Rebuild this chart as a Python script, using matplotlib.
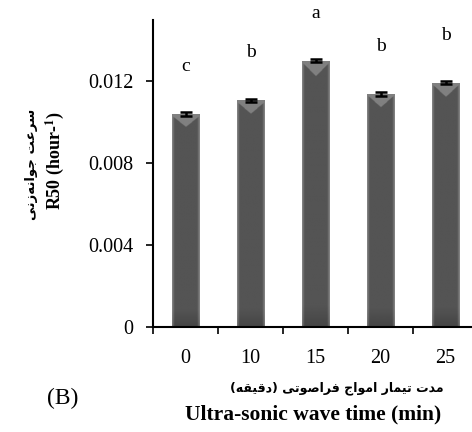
import numpy as np
import matplotlib
matplotlib.use("Agg")
import matplotlib.pyplot as plt

# data
times = ["0", "10", "15", "20", "25"]
r50 = [0.01039, 0.01106, 0.01298, 0.01137, 0.01192]
r50_err = [0.00008, 0.00008, 0.00007, 0.00008, 0.00007]
groups = ["c", "b", "a", "b", "b"]

xlabel_fa = "مدت تیمار امواج فراصوتی (دقیقه)"
ylabel_fa = "سرعت جوانه\u200cزنی"

plt.rcParams["font.family"] = ["Liberation Serif", "DejaVu Sans"]
plt.rcParams["mathtext.fontset"] = "stix"

# tiny Persian shaper (matplotlib 3.10 does not join Arabic letters)
FORMS = {
    "ا": ("\uFE8D", "\uFE8E", None, None),
    "ت": ("\uFE95", "\uFE96", "\uFE97", "\uFE98"),
    "ج": ("\uFE9D", "\uFE9E", "\uFE9F", "\uFEA0"),
    "د": ("\uFEA9", "\uFEAA", None, None),
    "ر": ("\uFEAD", "\uFEAE", None, None),
    "ز": ("\uFEAF", "\uFEB0", None, None),
    "س": ("\uFEB1", "\uFEB2", "\uFEB3", "\uFEB4"),
    "ص": ("\uFEB9", "\uFEBA", "\uFEBB", "\uFEBC"),
    "ع": ("\uFEC9", "\uFECA", "\uFECB", "\uFECC"),
    "ف": ("\uFED1", "\uFED2", "\uFED3", "\uFED4"),
    "ق": ("\uFED5", "\uFED6", "\uFED7", "\uFED8"),
    "م": ("\uFEE1", "\uFEE2", "\uFEE3", "\uFEE4"),
    "ن": ("\uFEE5", "\uFEE6", "\uFEE7", "\uFEE8"),
    "ه": ("\uFEE9", "\uFEEA", "\uFEEB", "\uFEEC"),
    "و": ("\uFEED", "\uFEEE", None, None),
    "ی": ("\uFEEF", "\uFEF0", "\uFEF3", "\uFEF4"),
}


def shape_fa(text):
    def joins_next(c):
        return c in FORMS and FORMS[c][2] is not None

    out = []
    for i, c in enumerate(text):
        if c not in FORMS:
            if c != "\u200c":
                out.append(c)
            continue
        prev = text[i - 1] if i > 0 else ""
        nxt = text[i + 1] if i + 1 < len(text) else ""
        jp = joins_next(prev)
        jn = nxt in FORMS and joins_next(c)
        iso, fin, ini, med = FORMS[c]
        if jp and jn:
            out.append(med)
        elif jp:
            out.append(fin)
        elif jn:
            out.append(ini)
        else:
            out.append(iso)
    vis = "".join(reversed(out))
    return vis.translate(str.maketrans("()", ")("))


fig = plt.figure(figsize=(4.72, 4.32), dpi=100)
ax = fig.add_axes([153 / 472, 1 - 327 / 432, 325 / 472, 307.5 / 432])

x = np.arange(len(times))
bars = ax.bar(x, r50, width=0.42, color="#505050", edgecolor="none", zorder=2)

# shaded look of the bars
u = np.linspace(0, 1, 60)
v = np.linspace(0, 1, 300)[:, None]
edge = np.abs(2 * u - 1)
shade = 0.33 + 0.2 * np.clip((edge - 0.82) / 0.18, 0, 1) + 0 * v
shade = shade - 0.06 * np.clip((0.08 - v) / 0.08, 0, 1)
tri = (1 - v) < 0.05 * (1 - edge) + 0.008
shade = np.where(tri, 0.5, shade)
for b in bars:
    x0, w, h = b.get_x(), b.get_width(), b.get_height()
    im = ax.imshow(shade, cmap="gray", vmin=0, vmax=1, origin="lower",
                   extent=[x0, x0 + w, 0, h], aspect="auto", zorder=2,
                   interpolation="bilinear")
    im.set_clip_path(b)

ax.errorbar(x, r50, yerr=r50_err, fmt="none", ecolor="black", elinewidth=1.8,
            capsize=4.5, capthick=1.8, zorder=3)

for xi, yi, e, g in zip(x, r50, r50_err, groups):
    ax.annotate(g, (xi, yi + e), xytext=(0, 33), textcoords="offset points",
                ha="center", va="center", fontsize=14, annotation_clip=False)

ax.set_xlim(-0.5, 4.5)
ax.set_ylim(0, 0.015)
ax.set_yticks([0, 0.004, 0.008, 0.012])
ax.set_yticklabels(["0", "0.004", "0.008", "0.012"])
ax.set_xticks(x)
ax.set_xticklabels(times)
ax.set_xticks(np.arange(-0.5, 4.6, 1), minor=True)
ax.tick_params(axis="x", which="major", length=0, labelsize=14.5, pad=16)
ax.tick_params(axis="x", which="minor", length=5, width=1.2, direction="out")
ax.tick_params(axis="y", length=5, width=1.2, labelsize=14.5, pad=9)
for s in ["top", "right"]:
    ax.spines[s].set_visible(False)
for s in ["left", "bottom"]:
    ax.spines[s].set_linewidth(1.5)

fig.text(32 / 472, 1 - 164 / 432, shape_fa(ylabel_fa), rotation=90,
         ha="center", va="center", fontsize=9.5, family="DejaVu Sans",
         fontweight="bold")
fig.text(55 / 472, 1 - 160 / 432, r"R50 (hour-$^{\mathbf{1}}$)", rotation=90,
         ha="center", va="center", fontsize=13, fontweight="bold")
fig.text(337 / 472, 1 - 388 / 432, shape_fa(xlabel_fa), ha="center",
         va="center", fontsize=9, family="DejaVu Sans", fontweight="bold")
fig.text(313 / 472, 1 - 414 / 432, "Ultra-sonic wave time (min)",
         ha="center", va="center", fontsize=15.5, fontweight="bold")
fig.text(63 / 472, 1 - 398 / 432, "(B)", ha="center", va="center",
         fontsize=17)

fig.savefig("out.png", dpi=100)
